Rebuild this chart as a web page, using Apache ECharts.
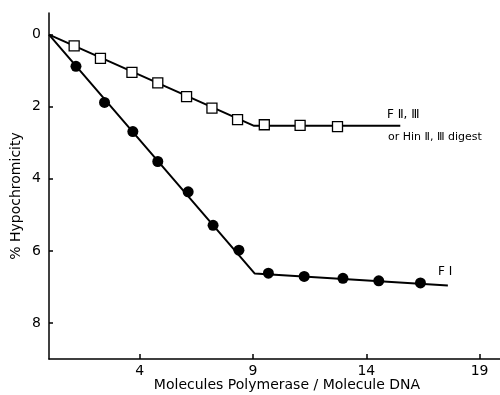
<!DOCTYPE html>
<html><head><meta charset="utf-8">
<script src="https://cdn.jsdelivr.net/npm/echarts@6/dist/echarts.min.js"></script>
<style>html,body{margin:0;padding:0;background:#fff}#c{width:500px;height:395px}</style>
</head><body><div id="c"></div>
<script>
// F II,III (open squares)
const sqX = [1.11, 2.27, 3.66, 4.80, 6.07, 7.19, 8.32, 9.50, 11.08, 12.73];
const sqY = [0.31, 0.66, 1.05, 1.34, 1.72, 2.04, 2.36, 2.50, 2.52, 2.55];
const sqFitX = [0, 9.05, 15.5];
const sqFitY = [0, 2.53, 2.53];
// F I (filled circles)
const ciX = [1.19, 2.45, 3.70, 4.80, 6.14, 7.24, 8.38, 9.68, 11.26, 12.97, 14.55, 16.39];
const ciY = [0.88, 1.88, 2.69, 3.52, 4.36, 5.29, 5.98, 6.62, 6.71, 6.76, 6.83, 6.89];
const ciFitX = [0, 9.08, 17.6];
const ciFitY = [0, 6.63, 6.96];
const xTicks = [4, 9, 14, 19];
const yTicks = [0, 2, 4, 6, 8];

const zip = (a, b) => a.map((v, i) => [v, b[i]]);
const font = 'DejaVu Sans';
const chart = echarts.init(document.getElementById('c'), null, {renderer: 'canvas'});
chart.setOption({
  animation: false,
  backgroundColor: '#fff',
  grid: {left: 49, right: 0, top: 13, bottom: 36, containLabel: false},
  xAxis: {
    type: 'value', min: 0, max: 19.9, position: 'bottom',
    axisLine: {show: true, onZero: false, lineStyle: {color: '#000', width: 1.5}},
    axisTick: {show: true, inside: true, length: 5, customValues: xTicks, lineStyle: {color: '#000', width: 1.5}},
    axisLabel: {customValues: xTicks, color: '#000', fontSize: 14, fontFamily: font, margin: 5},
    splitLine: {show: false}
  },
  yAxis: {
    type: 'value', inverse: true, min: -0.6, max: 9, position: 'left',
    axisLine: {show: true, onZero: false, lineStyle: {color: '#000', width: 1.5}},
    axisTick: {show: true, inside: true, length: 4, customValues: yTicks, lineStyle: {color: '#000', width: 1.5}},
    axisLabel: {customValues: yTicks, color: '#000', fontSize: 14, fontFamily: font, margin: 8},
    splitLine: {show: false}
  },
  series: [
    {type: 'line', data: zip(sqFitX, sqFitY), symbol: 'none', lineStyle: {color: '#000', width: 2}, z: 2},
    {type: 'line', data: zip(ciFitX, ciFitY), symbol: 'none', lineStyle: {color: '#000', width: 2}, z: 2},
    {type: 'scatter', data: zip(sqX, sqY), symbol: 'rect', symbolSize: 10,
      itemStyle: {color: '#fff', borderColor: '#000', borderWidth: 1.3, opacity: 1}, z: 3},
    {type: 'scatter', data: zip(ciX, ciY), symbol: 'circle', symbolSize: 11,
      itemStyle: {color: '#000', opacity: 1}, z: 3}
  ],
  graphic: [
    {type: 'text', x: 16, y: 196, rotation: Math.PI / 2,
      style: {text: '% Hypochromicity', font: '14px "DejaVu Sans"', fill: '#000', align: 'center', verticalAlign: 'middle'}},
    {type: 'text', x: 287, y: 385,
      style: {text: 'Molecules Polymerase / Molecule DNA', font: '14px "DejaVu Sans"', fill: '#000', align: 'center', verticalAlign: 'middle'}},
    {type: 'text', x: 387, y: 115,
      style: {text: 'F Ⅱ, Ⅲ', font: '12px "DejaVu Sans"', fill: '#000', align: 'left', verticalAlign: 'middle'}},
    {type: 'text', x: 388, y: 137,
      style: {text: 'or Hin Ⅱ, Ⅲ digest', font: '11px "DejaVu Sans"', fill: '#000', align: 'left', verticalAlign: 'middle'}},
    {type: 'text', x: 438, y: 272,
      style: {text: 'F Ⅰ', font: '12px "DejaVu Sans"', fill: '#000', align: 'left', verticalAlign: 'middle'}}
  ]
});
</script></body></html>
